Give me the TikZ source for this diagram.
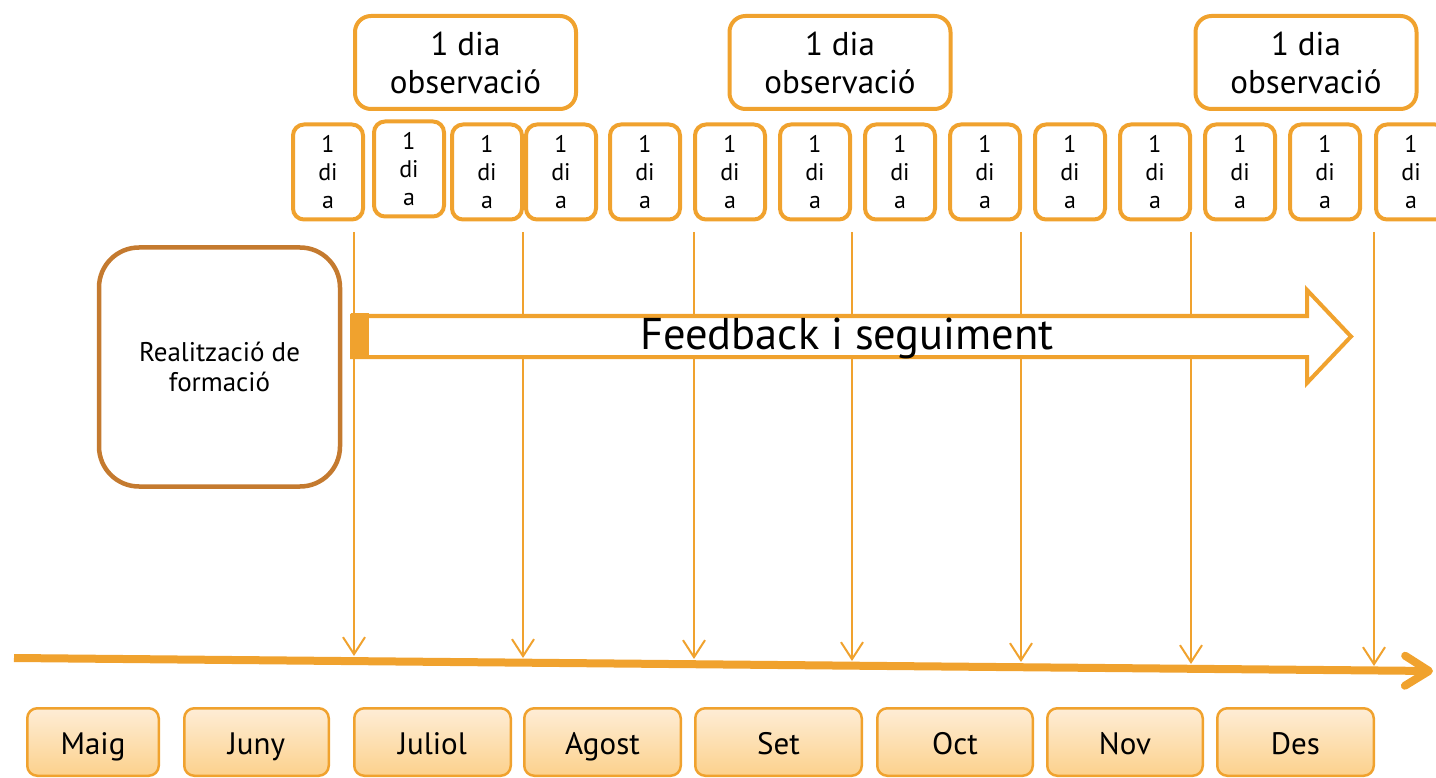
\documentclass[tikz,border=0pt]{standalone}
\usepackage{fontspec}
\setmainfont{PT Sans}
\usetikzlibrary{arrows.meta}
\definecolor{ora}{HTML}{F0A22E}
\definecolor{brn}{HTML}{C47A2F}
\definecolor{mtop}{HTML}{FEEDD6}
\definecolor{mbot}{HTML}{FCD18C}

\begin{document}
\begin{tikzpicture}[x=1pt, y=-1pt,
  obsbox/.style={draw=ora, line width=4pt, rounded corners=16pt, minimum width=221pt, minimum height=93pt, align=center, font=\fontsize{33}{38}\selectfont},
  daybox/.style={draw=ora, line width=4pt, rounded corners=11pt, minimum width=70pt, minimum height=95pt, align=center, inner sep=0pt, font=\fontsize{24}{28}\selectfont},
  monthbox/.style={draw=ora, line width=2.5pt, rounded corners=10pt, minimum height=67.5pt, top color=mtop, bottom color=mbot,
    text height=30pt, text depth=6pt, font=\fontsize{31}{34}\selectfont},
  tick/.style={ora, line width=2pt, -{Straight Barb[length=17pt, width=22pt]}}]
  \useasboundingbox (0,0) rectangle (1436,778);

  % Observation days
  \node[obsbox] (o1) at (465.5,62.5) {1 dia\\observació};
  \node[obsbox] (o2) at (840,62.5) {1 dia\\observació};
  \node[obsbox] (o3) at (1306,62.5) {1 dia\\observació};

  % Single days
  \foreach \i/\x/\y in {1/328/172, 2/409/169, 3/487/172, 4/561/172, 5/645/172, 6/730/172, 7/815/172,
                        8/900/172, 9/985/172, 10/1070/172, 11/1155/172, 12/1240/172, 13/1325/172, 14/1411/172} {
    \node[daybox] (d\i) at (\x,\y) {1\\di\\a};
  }

  % Training box
  \node[draw=brn, line width=4.5pt, rounded corners=40pt, minimum width=241pt, minimum height=239pt, align=center,
        font=\fontsize{27}{30}\selectfont] (form) at (219.5,367) {Realització de\\formació};

  % Time line
  \coordinate (tl0) at (14,658);
  \coordinate (tl1) at (1433,671);
  \draw[ora, line width=8pt, -{Straight Barb[length=24pt, width=30pt, round]}] (tl0) -- (tl1);

  % Ticks down to the time line
  \foreach \i/\x/\y in {1/354/656, 2/523/658, 3/694/659, 4/852/661, 5/1021/662, 6/1191/664, 7/1374/666} {
    \coordinate (t\i) at (\x,232);
    \coordinate (b\i) at (\x,\y);
    \draw[tick] (t\i) -- (b\i);
  }

  % Feedback arrow
  \draw[ora, line width=4pt, fill=white] (352,316) -- (1307,316) -- (1307,290) -- (1351,336.5)
    -- (1307,383) -- (1307,357) -- (352,357) -- cycle;
  \fill[ora] (351,313) rectangle (369,359);
  \node[font=\fontsize{44.5}{50}\selectfont] (fb) at (847,338) {Feedback i seguiment};

  % Months
  \foreach \m/\l/\r [count=\i] in {Maig/26/160, Juny/183/330, Juliol/353/512, Agost/523/682,
                                    Set/694/863, Oct/876/1034, Nov/1046/1204, Des/1216/1375} {
    \node[monthbox, minimum width={\r-\l-2.5}] (m\i) at ({(\l+\r)/2},742) {\m};
  }
\end{tikzpicture}
\end{document}
